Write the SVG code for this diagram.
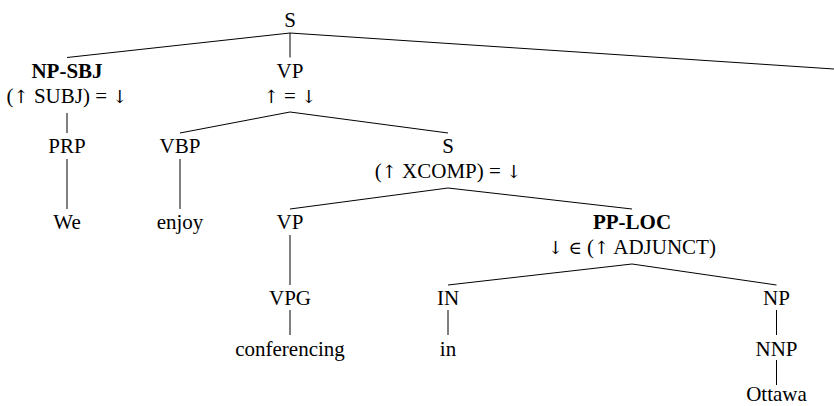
<svg xmlns="http://www.w3.org/2000/svg" width="834" height="406" viewBox="0 0 834 406">
<style>
text{font-family:'Liberation Serif','Times New Roman',Times,serif;font-size:21px;fill:#000;text-anchor:middle}
.b{font-weight:bold}
.m{font-family:'DejaVu Serif','DejaVu Sans',serif;font-size:18px}
#edges line{stroke:#000;stroke-width:1}
</style>
<rect width="834" height="406" fill="#fff"/>
<g id="edges">
<line x1="290" y1="33" x2="67" y2="57.5"/>
<line x1="290" y1="33" x2="290" y2="57.5"/>
<line x1="290" y1="33" x2="834" y2="69"/>
<line x1="67" y1="113" x2="67" y2="133"/>
<line x1="290" y1="112" x2="180" y2="133"/>
<line x1="290" y1="112" x2="448" y2="133"/>
<line x1="67" y1="159" x2="67" y2="209"/>
<line x1="180" y1="159" x2="180" y2="209"/>
<line x1="448" y1="188" x2="290" y2="209"/>
<line x1="448" y1="188" x2="632" y2="209"/>
<line x1="290" y1="235" x2="290" y2="285"/>
<line x1="632" y1="264" x2="448" y2="285"/>
<line x1="632" y1="264" x2="776.5" y2="285"/>
<line x1="290" y1="310" x2="290" y2="335"/>
<line x1="448" y1="310" x2="448" y2="335"/>
<line x1="776.5" y1="310" x2="776.5" y2="335"/>
<line x1="776.5" y1="360" x2="776.5" y2="385"/>
</g>
<g id="n-S"><text x="290" y="27" font-family="Liberation Serif, serif">S</text></g>
<g id="n-NPSBJ"><text class="b" x="67" y="78">NP-SBJ</text><text x="67" y="103">(<tspan class="m">↑</tspan> SUBJ) = <tspan class="m">↓</tspan></text></g>
<g id="n-VP1"><text x="290" y="78">VP</text><text x="290" y="103"><tspan class="m">↑</tspan> = <tspan class="m">↓</tspan></text></g>
<g id="n-PRP"><text x="67" y="153">PRP</text></g>
<g id="n-We"><text x="67" y="229">We</text></g>
<g id="n-VBP"><text x="180" y="153">VBP</text></g>
<g id="n-enjoy"><text x="180" y="229">enjoy</text></g>
<g id="n-S2"><text x="448" y="153">S</text><text x="448" y="178">(<tspan class="m">↑</tspan> XCOMP) = <tspan class="m">↓</tspan></text></g>
<g id="n-VP2"><text x="290" y="229">VP</text></g>
<g id="n-VPG"><text x="290" y="305">VPG</text></g>
<g id="n-conferencing"><text x="290" y="356">conferencing</text></g>
<g id="n-PPLOC"><text class="b" x="632" y="229">PP-LOC</text><text x="632" y="254"><tspan class="m">↓</tspan> <tspan class="m">∈</tspan> (<tspan class="m">↑</tspan> ADJUNCT)</text></g>
<g id="n-IN"><text x="448" y="305">IN</text></g>
<g id="n-in"><text x="448" y="356">in</text></g>
<g id="n-NP"><text x="776.5" y="305">NP</text></g>
<g id="n-NNP"><text x="776.5" y="356">NNP</text></g>
<g id="n-Ottawa"><text x="776.5" y="401">Ottawa</text></g>
</svg>
